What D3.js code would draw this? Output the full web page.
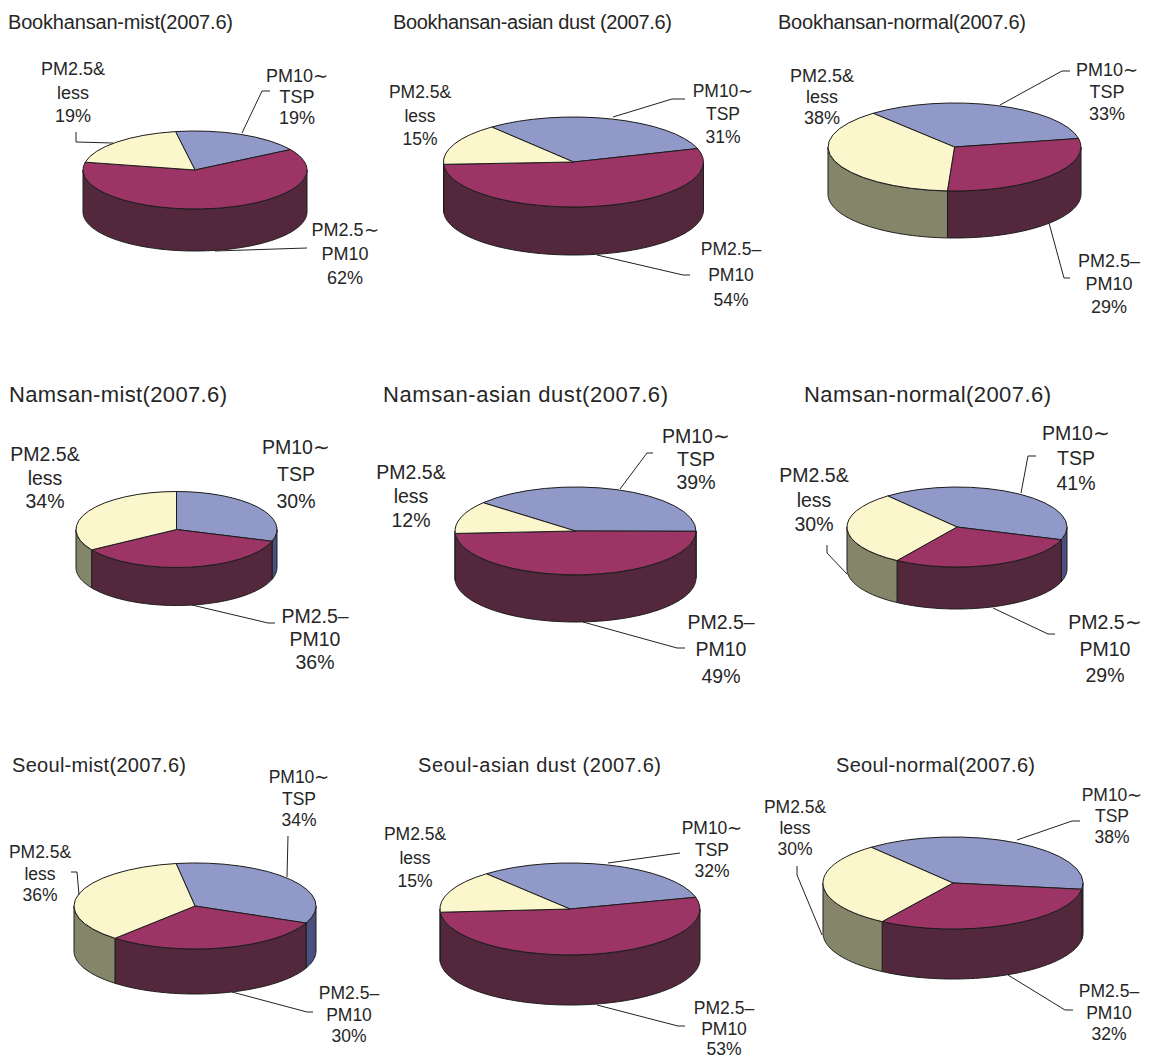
<!DOCTYPE html>
<html>
<head>
<meta charset="utf-8">
<script src="https://cdn.jsdelivr.net/npm/d3@7"></script>
<style>
html, body { margin: 0; padding: 0; background: #fff; }
svg { display: block; }
text { font-family: "Liberation Sans", Arial, sans-serif; fill: #262626; }
</style>
</head>
<body>
<svg id="chart" width="1150" height="1059"></svg>
<script>
// one entry per pie, left to right, top to bottom
var titles = ['Bookhansan-mist(2007.6)', 'Bookhansan-asian dust (2007.6)', 'Bookhansan-normal(2007.6)',
	'Namsan-mist(2007.6)', 'Namsan-asian dust(2007.6)', 'Namsan-normal(2007.6)',
	'Seoul-mist(2007.6)', 'Seoul-asian dust (2007.6)', 'Seoul-normal(2007.6)'];
var coarse_values = [19, 31, 33, 30, 39, 41, 34, 32, 38];   // PM10~TSP
var mid_values = [62, 54, 29, 36, 49, 29, 30, 53, 32];      // PM2.5~PM10
var fine_values = [19, 15, 38, 34, 12, 30, 36, 15, 30];     // PM2.5 & less
var coarse_label = ['PM10∼', 'TSP'];
var fine_label = ['PM2.5&', 'less'];
var mid_first_line = ['PM2.5∼', 'PM2.5–', 'PM2.5–', 'PM2.5–', 'PM2.5–', 'PM2.5∼', 'PM2.5–', 'PM2.5–', 'PM2.5–'];
var mid_second_line = 'PM10';

// layout: pie geometry [cx, cy, rx, ry, depth, start angle in degrees]
var pies = [
	[195, 170, 112, 39, 42, -10], [573.5, 162, 130, 45, 48, -39], [954.5, 147, 126.5, 44, 47, -40],
	[176.5, 529.5, 100.5, 38, 38, 0], [575.5, 531, 120.5, 44, 47, -50], [957, 527, 110, 40, 42, -39],
	[195, 906, 121, 43, 45, -9], [570, 909, 130, 46, 50, -40], [953, 883, 130, 46, 50, -39]
];
// title [x, baseline, width, font size]
var title_pos = [
	[8, 29, 225, 20], [393, 29, 279, 20], [778, 29, 248, 20],
	[9, 402, 218, 22], [383, 402, 285, 22], [804, 402, 247, 22],
	[12, 772, 174, 20], [418, 772, 243, 20], [836, 772, 199, 20]
];
// label [center x, first baseline, line height] for coarse, mid, fine
var label_pos = [
	[[297, 82, 21], [345, 236, 24], [73, 75, 23.5]],
	[[723, 97, 23], [731, 255, 25.5], [420, 98, 23.5]],
	[[1107, 76, 22], [1109, 267, 23], [822, 82, 21]],
	[[296, 454, 27], [315, 623, 23], [45, 461, 23.5]],
	[[696, 443, 23], [721, 629, 27], [411, 479, 24]],
	[[1076, 440, 25], [1105, 629, 26.5], [814, 482, 24.5]],
	[[299, 783, 21.5], [349, 999, 21.5], [40, 858, 21.5]],
	[[712, 834, 21.5], [724, 1014, 20.5], [415, 840, 23.5]],
	[[1112, 801, 21], [1109, 997, 21.5], [795, 813, 21]]
];
var label_size = [18, 17.5, 18, 19.5, 19.5, 19.5, 17.5, 17.5, 17.5];
var leaders = [
	[[[242, 133], [262, 91], [270, 91]], [[76, 132], [76, 142], [113, 143]], [[215, 251], [307, 248]]],
	[[[613, 117], [672, 99], [685, 99]], [[597, 255], [683, 275], [690, 275]]],
	[[[1000, 105], [1062, 71], [1070, 71]], [[1049, 223], [1064, 278], [1070, 278]]],
	[[[192, 605], [268, 623], [275, 623]]],
	[[[620, 489], [647, 453], [653, 453]], [[583, 622], [677, 648], [685, 648]]],
	[[[1021, 493], [1028, 456], [1036, 456]], [[827, 545], [827, 553], [847, 574]], [[993, 608], [1048, 634], [1055, 634]]],
	[[[287, 877], [288, 836]], [[79, 895], [77, 872], [71, 872]], [[232, 992], [307, 1012], [313, 1012]]],
	[[[608, 863], [680, 853]], [[597, 1005], [678, 1026], [685, 1026]]],
	[[[1017, 840], [1072, 821], [1080, 821]], [[822, 935], [797, 875], [797, 866]], [[1008, 975], [1065, 1010], [1073, 1010]]]
];

var top_colors = ['#9199c8', '#9c3566', '#fbf6cc'];
var side_colors = ['#4a4f80', '#54283c', '#85856a'];
var edge_color = '#1c1c1c';

var svg = d3.select('#chart');
var rad = Math.PI / 180;
var arc = d3.arc().innerRadius(0).outerRadius(1);
var leader_line = d3.line();

titles.forEach(function(title, i) {
	var p = pies[i], t = title_pos[i];
	var cx = p[0], cy = p[1], rx = p[2], ry = p[3], depth = p[4];
	var values = [coarse_values[i], mid_values[i], fine_values[i]];

	svg.append('text')
		.attr('x', t[0]).attr('y', t[1])
		.attr('font-size', t[3])
		.attr('textLength', t[2]).attr('lengthAdjust', 'spacing')
		.text(title);

	var pie = d3.pie().sort(null).startAngle(p[5] * rad).endAngle((p[5] + 360) * rad);
	var slices = pie(values);
	var g = svg.append('g');

	// walls: only the part of each slice that faces the viewer
	var rim = d3.line()
		.x(d => cx + rx * Math.sin(d))
		.y(d => cy - ry * Math.cos(d));
	slices.forEach(function(s, k) {
		var a0 = Math.max(s.startAngle, Math.PI / 2), a1 = Math.min(s.endAngle, 3 * Math.PI / 2);
		if (a1 <= a0) return;
		var angles = d3.range(a0, a1, 0.02).concat([a1]);
		var front = rim(angles);
		var back = d3.line()
			.x(d => cx + rx * Math.sin(d))
			.y(d => cy + depth - ry * Math.cos(d))(angles.slice().reverse());
		g.append('path')
			.attr('d', front + 'L' + back.slice(1) + 'Z')
			.attr('fill', side_colors[k])
			.attr('stroke', edge_color)
			.attr('stroke-width', 1);
	});

	// top face, drawn on a unit circle and squashed into the ellipse
	g.append('g')
		.attr('transform', 'translate(' + cx + ',' + cy + ') scale(' + rx + ',' + ry + ')')
		.selectAll('path').data(slices).enter().append('path')
		.attr('d', arc)
		.attr('fill', (d, k) => top_colors[k])
		.attr('stroke', edge_color)
		.attr('stroke-width', 1)
		.attr('vector-effect', 'non-scaling-stroke');

	leaders[i].forEach(function(l) {
		svg.append('path')
			.attr('d', leader_line(l))
			.attr('fill', 'none')
			.attr('stroke', '#222')
			.attr('stroke-width', 1);
	});

	var label_lines = [
		coarse_label.concat([values[0] + '%']),
		[mid_first_line[i], mid_second_line, values[1] + '%'],
		fine_label.concat([values[2] + '%'])
	];
	label_lines.forEach(function(lines, k) {
		var pos = label_pos[i][k];
		lines.forEach(function(line, n) {
			svg.append('text')
				.attr('x', pos[0]).attr('y', pos[1] + n * pos[2])
				.attr('text-anchor', 'middle')
				.attr('font-size', label_size[i])
				.text(line);
		});
	});
});
</script>
</body>
</html>
